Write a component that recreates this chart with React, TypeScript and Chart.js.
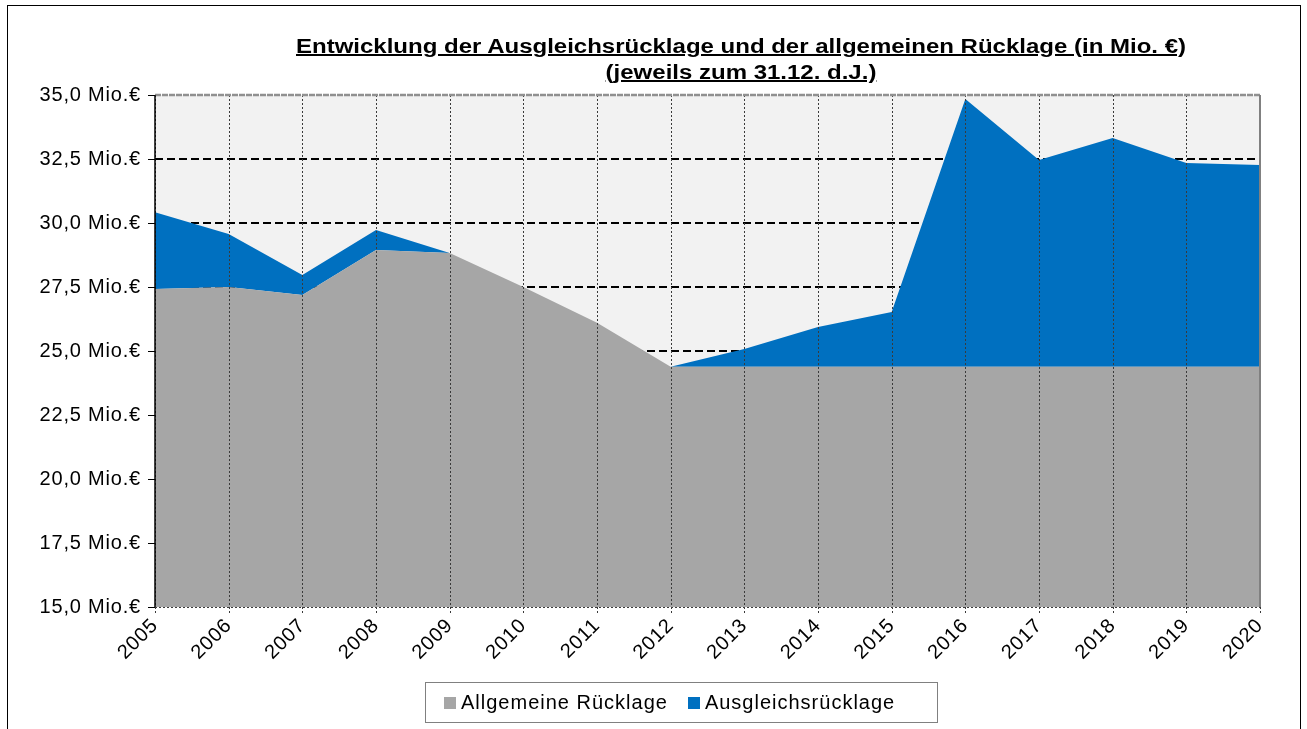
import React, { useEffect, useRef } from "react";
import { Chart, registerables } from "chart.js";

Chart.register(...registerables);

const years = ["2005", "2006", "2007", "2008", "2009", "2010", "2011", "2012", "2013", "2014", "2015", "2016", "2017", "2018", "2019", "2020"];
const allgemeineRuecklage = [27.42, 27.5, 27.19, 28.95, 28.83, 27.5, 26.1, 24.38, 24.38, 24.38, 24.38, 24.38, 24.38, 24.38, 24.38, 24.38];
const ausgleichsRuecklage = [3.0, 2.07, 0.78, 0.78, 0, 0, 0, 0, 0.7, 1.56, 2.14, 10.46, 8.08, 8.94, 7.96, 7.89];
const dashedGridValues = [25, 27.5, 30, 32.5];
const titleLines = ["Entwicklung der Ausgleichsrücklage und der allgemeinen Rücklage (in Mio. €)", "(jeweils zum 31.12. d.J.)"];
const seriesNames = ["Allgemeine Rücklage", "Ausgleichsrücklage"];
const seriesColors = ["#a6a6a6", "#0070c0"];

const FONT = "'Liberation Sans', Arial, sans-serif";

const spacingPlugin = {
  id: "letterSpacing",
  beforeDraw(chart: any) {
    try {
      chart.ctx.letterSpacing = "0.8px";
    } catch (e) {}
  },
};

const gridPlugin = {
  id: "customGrid",
  beforeDatasetsDraw(chart: any) {
    const { ctx, chartArea } = chart;
    const y = chart.scales.y;
    ctx.save();
    ctx.fillStyle = "#f2f2f2";
    ctx.fillRect(chartArea.left, chartArea.top, chartArea.right - chartArea.left, chartArea.bottom - chartArea.top);
    ctx.strokeStyle = "#000";
    ctx.lineWidth = 2;
    ctx.setLineDash([8, 4]);
    dashedGridValues.forEach((v) => {
      const py = Math.round(y.getPixelForValue(v));
      ctx.beginPath();
      ctx.moveTo(chartArea.left, py);
      ctx.lineTo(chartArea.right, py);
      ctx.stroke();
    });
    ctx.restore();
  },
  afterDatasetsDraw(chart: any) {
    const { ctx, chartArea } = chart;
    const x = chart.scales.x;
    ctx.save();
    ctx.strokeStyle = "#3a3a3a";
    ctx.lineWidth = 1;
    ctx.setLineDash([2, 2]);
    years.forEach((_, i) => {
      const px = Math.round(x.getPixelForValue(i)) + 0.5;
      ctx.beginPath();
      ctx.moveTo(px, chartArea.top);
      ctx.lineTo(px, chartArea.bottom + 7);
      ctx.stroke();
    });
    ctx.beginPath();
    ctx.moveTo(chartArea.left, chartArea.bottom + 0.5);
    ctx.lineTo(chartArea.right, chartArea.bottom + 0.5);
    ctx.stroke();
    ctx.strokeStyle = "#909090";
    ctx.lineWidth = 2.5;
    ctx.setLineDash([6, 1]);
    ctx.beginPath();
    ctx.moveTo(chartArea.left, chartArea.top);
    ctx.lineTo(chartArea.right, chartArea.top);
    ctx.stroke();
    ctx.setLineDash([]);
    ctx.strokeStyle = "#808080";
    ctx.lineWidth = 2;
    ctx.beginPath();
    ctx.moveTo(chartArea.right, chartArea.top);
    ctx.lineTo(chartArea.right, chartArea.bottom);
    ctx.stroke();
    ctx.strokeStyle = "#000";
    ctx.lineWidth = 1.5;
    ctx.beginPath();
    ctx.moveTo(chartArea.left, chartArea.top);
    ctx.lineTo(chartArea.left, chartArea.bottom);
    ctx.stroke();
    ctx.restore();
  },
};

export default function App() {
  const canvasRef = useRef<HTMLCanvasElement | null>(null);

  useEffect(() => {
    const canvas = canvasRef.current;
    if (!canvas) return;
    const chart = new Chart(canvas, {
      type: "line",
      data: {
        labels: years,
        datasets: [
          {
            label: seriesNames[0],
            data: allgemeineRuecklage,
            backgroundColor: seriesColors[0],
            borderColor: seriesColors[0],
            borderWidth: 0,
            pointRadius: 0,
            fill: "start",
            tension: 0,
          },
          {
            label: seriesNames[1],
            data: ausgleichsRuecklage,
            backgroundColor: seriesColors[1],
            borderColor: seriesColors[1],
            borderWidth: 0,
            pointRadius: 0,
            fill: "-1",
            tension: 0,
          },
        ],
      },
      options: {
        responsive: false,
        animation: false,
        layout: { padding: { top: 95, right: 47, left: 0, bottom: 0 } },
        plugins: {
          legend: { display: false },
          title: { display: false },
          tooltip: { enabled: false },
        },
        scales: {
          x: {
            type: "category",
            offset: false,
            grid: { drawOnChartArea: false, drawTicks: false },
            border: { display: false },
            ticks: {
              color: "#000",
              font: { family: FONT, size: 20 },
              minRotation: 45,
              maxRotation: 45,
              padding: 7,
              autoSkip: false,
            },
            afterFit: (scale: any) => {
              scale.height = 122;
            },
          },
          y: {
            stacked: true,
            min: 15,
            max: 35,
            grid: { drawOnChartArea: false, drawTicks: true, tickLength: 7, tickColor: "#000", tickWidth: 1 },
            border: { display: false },
            ticks: {
              stepSize: 2.5,
              color: "#000",
              padding: 7,
              font: { family: FONT, size: 20 },
              callback: (v: any) => Number(v).toFixed(1).replace(".", ",") + " Mio.€",
            },
            afterFit: (scale: any) => {
              scale.width = 155;
            },
          },
        },
      },
      plugins: [spacingPlugin, gridPlugin],
    });
    return () => chart.destroy();
  }, []);

  return (
    <div style={{ position: "absolute", left: 0, top: 0, width: 1307, height: 729, background: "#fff", overflow: "hidden" }}>
      <div style={{ position: "absolute", left: 7, top: 5, width: 1292, height: 760, border: "1px solid #000" }} />
      <canvas ref={canvasRef} width={1307} height={729} style={{ position: "absolute", left: 0, top: 0 }} />
      <div
        style={{
          position: "absolute",
          left: 241,
          top: 33,
          width: 1000,
          textAlign: "center",
          fontFamily: FONT,
          fontWeight: "bold",
          fontSize: 20,
          lineHeight: "26px",
          textDecoration: "underline",
          color: "#000",
          transform: "scaleX(1.2)",
          transformOrigin: "center top",
        }}
      >
        <div>{titleLines[0]}</div>
        <div>{titleLines[1]}</div>
      </div>
      <div
        style={{
          position: "absolute",
          left: 425,
          top: 682,
          width: 513,
          height: 41,
          border: "1px solid #808080",
          display: "flex",
          alignItems: "center",
          justifyContent: "flex-start",
          paddingLeft: 18,
          boxSizing: "border-box",
          fontFamily: FONT,
          fontSize: 20,
          letterSpacing: "1px",
          color: "#000",
          gap: 20,
        }}
      >
        {seriesNames.map((n, i) => (
          <div key={n} style={{ display: "flex", alignItems: "center" }}>
            <span style={{ display: "inline-block", width: 12, height: 12, background: seriesColors[i], marginRight: 5 }} />
            <span>{n}</span>
          </div>
        ))}
      </div>
    </div>
  );
}
